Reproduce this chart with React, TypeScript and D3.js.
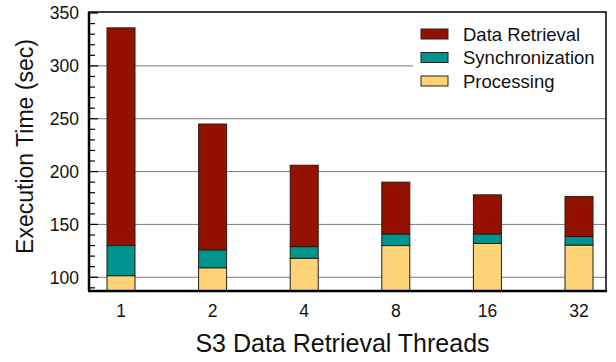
import { useEffect, useRef } from 'react';
import * as d3 from 'd3';

const threads = ['1', '2', '4', '8', '16', '32'];
const processing = [101.5, 109, 118, 130, 132, 130.5];
const synchronization = [28.5, 17, 11, 11, 9, 8];
const dataRetrieval = [206, 119, 77, 49, 37, 38];
const seriesNames = ['Processing', 'Synchronization', 'Data Retrieval'];
const yTicks = [100, 150, 200, 250, 300, 350];

function App() {
  const svgRef = useRef(null);

  useEffect(() => {
    const W = 616;
    const H = 362;
    const margin = { top: 12, right: 10, bottom: 71, left: 89 };
    const width = W - margin.left - margin.right;
    const height = H - margin.top - margin.bottom;

    d3.select(svgRef.current).selectAll('*').remove();

    const root = d3
      .select(svgRef.current)
      .attr('width', W)
      .attr('height', H)
      .style('font-family', '"Liberation Sans", Arial, Helvetica, sans-serif');

    const svg = root.append('g').attr('transform', `translate(${margin.left},${margin.top})`);

    const x = d3.scaleLinear().domain([0, threads.length - 1]).range([32, width - 27]);
    const barW = 28;
    const y = d3.scaleLinear().domain([87, 351]).range([height, 0]);

    const color = d3
      .scaleOrdinal()
      .domain(seriesNames)
      .range(['#ffd479', '#009490', '#941100']);

    const table = threads.map((t, i) => ({
      t,
      i,
      Processing: processing[i],
      Synchronization: synchronization[i],
      'Data Retrieval': dataRetrieval[i],
    }));
    const stacked = d3.stack().keys(seriesNames)(table);

    // gridlines
    svg
      .append('g')
      .selectAll('line')
      .data(yTicks.filter((d) => d < 350))
      .enter()
      .append('line')
      .attr('x1', 0)
      .attr('x2', width)
      .attr('y1', (d) => y(d))
      .attr('y2', (d) => y(d))
      .attr('stroke', '#7a7a7a')
      .attr('stroke-width', 1);

    // minor / major ticks (inside)
    const minor = d3.range(90, 351, 10);
    svg
      .append('g')
      .selectAll('line')
      .data(minor)
      .enter()
      .append('line')
      .attr('x1', 0)
      .attr('x2', (d) => (d % 50 === 0 ? 9 : 6))
      .attr('y1', (d) => y(d))
      .attr('y2', (d) => y(d))
      .attr('stroke', '#000')
      .attr('stroke-width', 1.2);

    // legend background covers grid
    const legend = svg.append('g').attr('transform', `translate(${332},${22})`);
    legend
      .append('rect')
      .attr('x', -8)
      .attr('y', -20)
      .attr('width', width - 332 + 8)
      .attr('height', 88)
      .attr('fill', '#fff');

    // bars
    svg
      .append('g')
      .selectAll('g')
      .data(stacked)
      .enter()
      .append('g')
      .attr('fill', (d) => color(d.key))
      .selectAll('rect')
      .data((d) => d)
      .enter()
      .append('rect')
      .attr('x', (d) => x(d.data.i) - barW / 2)
      .attr('y', (d) => y(d[1]))
      .attr('width', barW)
      .attr('height', (d) => y(Math.max(d[0], 87)) - y(d[1]))
      .attr('stroke', '#2b1d10')
      .attr('stroke-width', 1);

    // legend items
    const legendOrder = ['Data Retrieval', 'Synchronization', 'Processing'];
    const items = legend
      .selectAll('g.item')
      .data(legendOrder)
      .enter()
      .append('g')
      .attr('class', 'item')
      .attr('transform', (d, i) => `translate(0, ${i * 23.5})`);
    items
      .append('rect')
      .attr('width', 27)
      .attr('height', 10)
      .attr('y', -5)
      .attr('fill', (d) => color(d))
      .attr('stroke', '#222')
      .attr('stroke-width', 1);
    items
      .append('text')
      .attr('x', 42)
      .attr('y', 0)
      .attr('dy', '0.36em')
      .style('font-size', '18.5px')
      .style('fill', '#111')
      .text((d) => d);

    // frame
    svg
      .append('rect')
      .attr('x', 0)
      .attr('y', 0)
      .attr('width', width)
      .attr('height', height)
      .attr('fill', 'none')
      .attr('stroke', '#000')
      .attr('stroke-width', 1.5);
    svg.append('line').attr('x1', -1).attr('x2', width + 1).attr('y1', height).attr('y2', height)
      .attr('stroke', '#000').attr('stroke-width', 2.5);
    svg.append('line').attr('x1', 0).attr('x2', 0).attr('y1', 0).attr('y2', height)
      .attr('stroke', '#000').attr('stroke-width', 2.5);

    // y tick labels
    svg
      .append('g')
      .selectAll('text')
      .data(yTicks)
      .enter()
      .append('text')
      .attr('x', -10)
      .attr('y', (d) => y(d))
      .attr('dy', '0.36em')
      .attr('text-anchor', 'end')
      .style('font-size', '17.5px')
      .style('fill', '#111')
      .text((d) => d);

    // x tick labels
    svg
      .append('g')
      .selectAll('text')
      .data(threads)
      .enter()
      .append('text')
      .attr('x', (d, i) => x(i))
      .attr('y', height + 26)
      .attr('text-anchor', 'middle')
      .style('font-size', '17.5px')
      .style('fill', '#111')
      .text((d) => d);

    // axis titles
    svg
      .append('text')
      .attr('x', width / 2 - 5)
      .attr('y', height + 61)
      .attr('text-anchor', 'middle')
      .style('font-size', '25px')
      .style('fill', '#111')
      .text('S3 Data Retrieval Threads');

    svg
      .append('text')
      .attr('transform', 'rotate(-90)')
      .attr('x', -(height / 2) + 5)
      .attr('y', -56)
      .attr('text-anchor', 'middle')
      .style('font-size', '23px')
      .style('fill', '#111')
      .text('Execution Time (sec)');
  }, []);

  return (
    <div style={{ position: 'absolute', left: 0, top: 0 }}>
      <svg ref={svgRef}></svg>
    </div>
  );
}

export default App;
